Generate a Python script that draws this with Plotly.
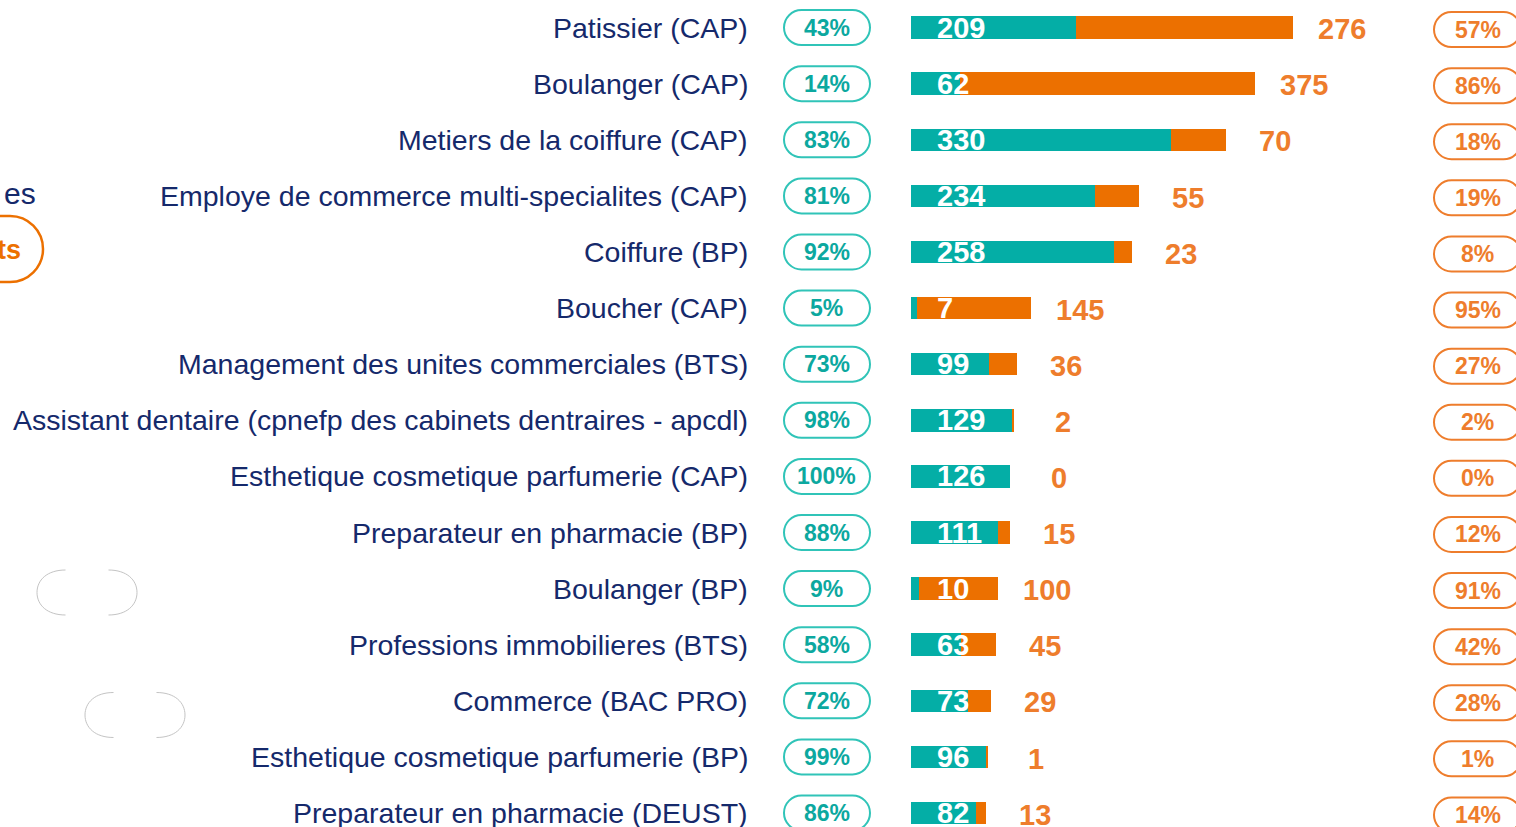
import plotly.graph_objects as go

W, H = 1516, 827

categories = [
    "Patissier (CAP)",
    "Boulanger (CAP)",
    "Metiers de la coiffure (CAP)",
    "Employe de commerce multi-specialites (CAP)",
    "Coiffure (BP)",
    "Boucher (CAP)",
    "Management des unites commerciales (BTS)",
    "Assistant dentaire (cpnefp des cabinets dentraires - apcdl)",
    "Esthetique cosmetique parfumerie (CAP)",
    "Preparateur en pharmacie (BP)",
    "Boulanger (BP)",
    "Professions immobilieres (BTS)",
    "Commerce (BAC PRO)",
    "Esthetique cosmetique parfumerie (BP)",
    "Preparateur en pharmacie (DEUST)",
]
teal_values = [209, 62, 330, 234, 258, 7, 99, 129, 126, 111, 10, 63, 73, 96, 82]
orange_values = [276, 375, 70, 55, 23, 145, 36, 2, 0, 15, 100, 45, 29, 1, 13]
teal_pct = ["43%", "14%", "83%", "81%", "92%", "5%", "73%", "98%", "100%", "88%", "9%", "58%", "72%", "99%", "86%"]
orange_pct = ["57%", "86%", "18%", "19%", "8%", "95%", "27%", "2%", "0%", "12%", "91%", "42%", "28%", "1%", "14%"]

TEAL = "#04AEA6"
TEAL_LINE = "#30C4B8"
TEAL_TXT = "#0CA89F"
ORANGE = "#EC7000"
ORANGE_TXT = "#EE7D2C"
NAVY = "#15296B"
FONT = "Liberation Sans, Arial, sans-serif"

rows = list(range(len(categories)))

fig = go.Figure()
fig.add_trace(go.Bar(y=rows, x=teal_values, orientation="h", width=0.4,
                     marker=dict(color=TEAL, line=dict(width=0)), hoverinfo="skip"))
fig.add_trace(go.Bar(y=rows, x=orange_values, orientation="h", width=0.4,
                     marker=dict(color=ORANGE, line=dict(width=0)), hoverinfo="skip"))

px_per_unit = 0.7875
bar_start_px = 911
x_range = [-bar_start_px / px_per_unit, (W - bar_start_px) / px_per_unit]
row_px = 56.1
first_row_px = 27.6
y_range = [(H - first_row_px) / row_px, -first_row_px / row_px]


def pill_path(w, h, dy=0.0):
    r = h / 2
    a = w / 2 - r
    k = 0.5523 * r
    return (f"M {-a},{-r + dy} L {a},{-r + dy} "
            f"C {a + k},{-r + dy} {a + r},{-k + dy} {a + r},{dy} "
            f"C {a + r},{k + dy} {a + k},{r + dy} {a},{r + dy} "
            f"L {-a},{r + dy} "
            f"C {-a - k},{r + dy} {-a - r},{k + dy} {-a - r},{dy} "
            f"C {-a - r},{-k + dy} {-a - k},{-r + dy} {-a},{-r + dy} Z")


shapes = []
annotations = []
left_pill_x = 827 / W
right_pill_x = 1477.5 / W
label_x = 750 / W

for i, cat in enumerate(categories):
    annotations.append(dict(x=label_x, xref="paper", y=i, yref="y", text=cat,
                            showarrow=False, xanchor="right", yanchor="middle",
                            font=dict(family=FONT, size=28.5, color=NAVY)))
    shapes.append(dict(type="path", xref="paper", xanchor=left_pill_x, xsizemode="pixel",
                       yref="y", yanchor=i, ysizemode="pixel", path=pill_path(86, 35),
                       line=dict(color=TEAL_LINE, width=2), fillcolor="rgba(0,0,0,0)"))
    annotations.append(dict(x=left_pill_x, xref="paper", y=i, yref="y", text=f"<b>{teal_pct[i]}</b>",
                            showarrow=False, xanchor="center", yanchor="middle",
                            font=dict(family=FONT, size=23, color=TEAL_TXT)))
    shapes.append(dict(type="path", xref="paper", xanchor=right_pill_x, xsizemode="pixel",
                       yref="y", yanchor=i + 0.035, ysizemode="pixel", path=pill_path(87, 35),
                       line=dict(color=ORANGE_TXT, width=2), fillcolor="rgba(0,0,0,0)"))
    annotations.append(dict(x=right_pill_x, xref="paper", y=i + 0.035, yref="y", text=f"<b>{orange_pct[i]}</b>",
                            showarrow=False, xanchor="center", yanchor="middle",
                            font=dict(family=FONT, size=23, color=ORANGE_TXT)))
    annotations.append(dict(x=0, xref="x", xshift=24, y=i, yref="y", text=f"<b>{teal_values[i]}</b>",
                            showarrow=False, xanchor="left", yanchor="middle",
                            font=dict(family=FONT, size=29, color="white")))
    total = teal_values[i] + orange_values[i]
    annotations.append(dict(x=total, xref="x", xshift=49, y=i + 0.03, yref="y", text=f"<b>{orange_values[i]}</b>",
                            showarrow=False, xanchor="center", yanchor="middle",
                            font=dict(family=FONT, size=29, color=ORANGE_TXT)))


def P(px, py):
    return f"{px / W},{1 - py / H}"


# partially visible elements at the left edge of the page
annotations.append(dict(x=38 / W, xref="paper", y=1 - 193 / H, yref="paper", text="es",
                        showarrow=False, xanchor="right", yanchor="middle",
                        font=dict(family=FONT, size=30, color=NAVY)))
annotations.append(dict(x=23 / W, xref="paper", y=1 - 250 / H, yref="paper", text="<b>ts</b>",
                        showarrow=False, xanchor="right", yanchor="middle",
                        font=dict(family=FONT, size=27, color=ORANGE)))
k = 0.5523
r = 33
cx, cy = 10, 249
shapes.append(dict(type="path", xref="paper", yref="paper",
                   path=(f"M {P(-60, cy - r)} L {P(cx, cy - r)} "
                         f"C {P(cx + k * r, cy - r)} {P(cx + r, cy - k * r)} {P(cx + r, cy)} "
                         f"C {P(cx + r, cy + k * r)} {P(cx + k * r, cy + r)} {P(cx, cy + r)} "
                         f"L {P(-60, cy + r)}"),
                   line=dict(color=ORANGE, width=2.5)))

for (x0, x1, yc) in [(37, 137, 592.5), (85, 185, 715)]:
    rr = 22.5
    lc = x0 + rr
    rc = x1 - rr
    shapes.append(dict(type="path", xref="paper", yref="paper",
                       path=(f"M {P(lc + 6, yc - rr)} C {P(lc - k * rr, yc - rr)} {P(lc - rr, yc - k * rr)} {P(lc - rr, yc)} "
                             f"C {P(lc - rr, yc + k * rr)} {P(lc - k * rr, yc + rr)} {P(lc + 6, yc + rr)}"),
                       line=dict(color="#C4C4C4", width=1)))
    shapes.append(dict(type="path", xref="paper", yref="paper",
                       path=(f"M {P(rc - 6, yc - rr)} C {P(rc + k * rr, yc - rr)} {P(rc + rr, yc - k * rr)} {P(rc + rr, yc)} "
                             f"C {P(rc + rr, yc + k * rr)} {P(rc + k * rr, yc + rr)} {P(rc - 6, yc + rr)}"),
                       line=dict(color="#C4C4C4", width=1)))

fig.update_layout(
    width=W, height=H,
    barmode="stack",
    showlegend=False,
    plot_bgcolor="white",
    paper_bgcolor="white",
    margin=dict(l=0, r=0, t=0, b=0),
    xaxis=dict(range=x_range, visible=False, fixedrange=True),
    yaxis=dict(range=y_range, visible=False, fixedrange=True),
    shapes=shapes,
    annotations=annotations,
)

fig.write_html("out.html", config={"displayModeBar": False},
               post_script="document.body.style.margin='0';document.body.style.overflow='hidden';")
